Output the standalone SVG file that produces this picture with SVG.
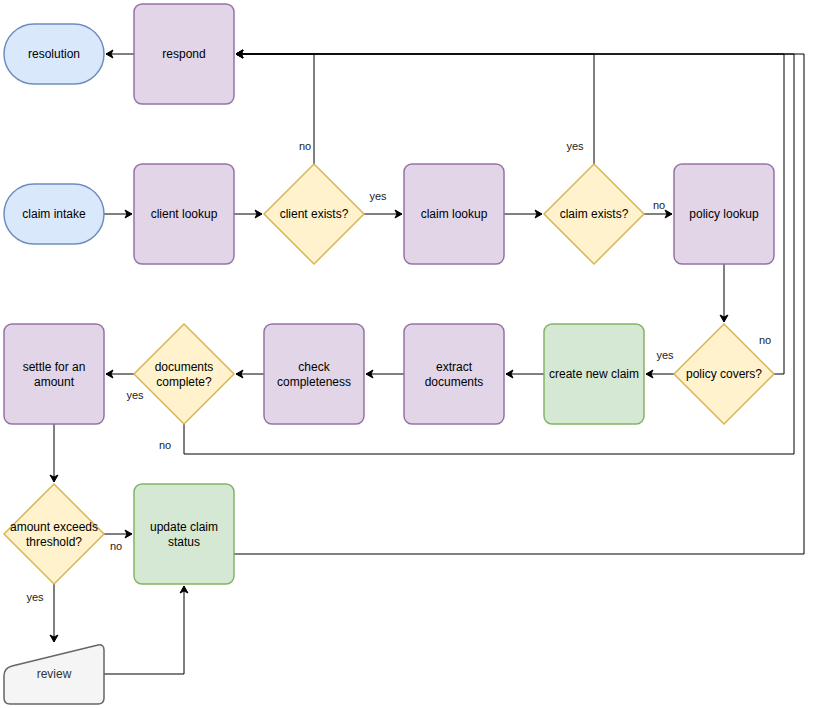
<svg xmlns="http://www.w3.org/2000/svg" width="816" height="708" viewBox="0 0 816 708">
<style>
text{font-family:"Liberation Sans",Arial,Helvetica,sans-serif;font-size:12px;fill:#000;text-anchor:middle;dominant-baseline:central}
.lbl{font-size:11px;fill:#222}
.p{fill:#e1d5e7;stroke:#9673a6;stroke-width:1.5}
.y{fill:#fff2cc;stroke:#d6b656;stroke-width:1.5}
.g{fill:#d5e8d4;stroke:#82b366;stroke-width:1.5}
.b{fill:#dae8fc;stroke:#6c8ebf;stroke-width:1.5}
.gr{fill:#f5f5f5;stroke:#666666;stroke-width:1.5}
.e{fill:none;stroke:#000;stroke-width:1}
.a{marker-end:url(#arr)}
</style>
<defs>
<marker id="arr" markerUnits="userSpaceOnUse" markerWidth="10" markerHeight="10" viewBox="-8 -5 10 10" refX="0" refY="0" orient="auto">
<path d="M-7,-4 L0,0 L-7,4 L-5,0 Z" fill="#000" stroke="#000" stroke-width="1"/>
</marker>
</defs>
<g id="connectors">
<path class="e a" d="M134,54 L106,54"/>
<path class="e a" d="M104,214 L132,214"/>
<path class="e a" d="M234,214 L262,214"/>
<path class="e a" d="M364,214 L402,214"/>
<path class="e a" d="M314,164 L314,54 L236,54"/>
<path class="e a" d="M504,214 L542,214"/>
<path class="e a" d="M644,214 L672,214"/>
<path class="e a" d="M594,164 L594,54 L236,54"/>
<path class="e a" d="M724,264 L724,322"/>
<path class="e a" d="M674,374 L646,374"/>
<path class="e a" d="M774,374 L784,374 L784,54 L236,54"/>
<path class="e a" d="M544,374 L506,374"/>
<path class="e a" d="M404,374 L366,374"/>
<path class="e a" d="M264,374 L236,374"/>
<path class="e a" d="M134,374 L106,374"/>
<path class="e a" d="M184,424 L184,454 L794,454 L794,54 L236,54"/>
<path class="e a" d="M54,424 L54,482"/>
<path class="e a" d="M104,534 L132,534"/>
<path class="e a" d="M54,584 L54,642"/>
<path class="e a" d="M104,674 L184,674 L184,586"/>
<path class="e a" d="M234,554 L804,554 L804,54 L236,54"/>
<text class="lbl" x="305" y="146">no</text>
<text class="lbl" x="378" y="196">yes</text>
<text class="lbl" x="575" y="146">yes</text>
<text class="lbl" x="659" y="205">no</text>
<text class="lbl" x="765" y="340">no</text>
<text class="lbl" x="665" y="355">yes</text>
<text class="lbl" x="135" y="395">yes</text>
<text class="lbl" x="165" y="445">no</text>
<text class="lbl" x="116" y="546">no</text>
<text class="lbl" x="35" y="597">yes</text>
</g>
<g id="resolution"><rect class="b" x="4" y="24" width="100" height="60" rx="30" ry="30"/><text x="54" y="54">resolution</text></g>
<g id="respond"><rect class="p" x="134" y="4" width="100" height="100" rx="8"/><text x="184" y="54">respond</text></g>
<g id="claim-intake"><rect class="b" x="4" y="184" width="100" height="60" rx="30" ry="30"/><text x="54" y="214">claim intake</text></g>
<g id="client-lookup"><rect class="p" x="134" y="164" width="100" height="100" rx="8"/><text x="184" y="214">client lookup</text></g>
<g id="client-exists"><path class="y" d="M314,164 L364,214 L314,264 L264,214 Z"/><text x="314" y="214">client exists?</text></g>
<g id="claim-lookup"><rect class="p" x="404" y="164" width="100" height="100" rx="8"/><text x="454" y="214">claim lookup</text></g>
<g id="claim-exists"><path class="y" d="M594,164 L644,214 L594,264 L544,214 Z"/><text x="594" y="214">claim exists?</text></g>
<g id="policy-lookup"><rect class="p" x="674" y="164" width="100" height="100" rx="8"/><text x="724" y="214">policy lookup</text></g>
<g id="policy-covers"><path class="y" d="M724,324 L774,374 L724,424 L674,374 Z"/><text x="724" y="374">policy covers?</text></g>
<g id="create-new-claim"><rect class="g" x="544" y="324" width="100" height="100" rx="8"/><text x="594" y="374">create new claim</text></g>
<g id="extract-documents"><rect class="p" x="404" y="324" width="100" height="100" rx="8"/><text x="454" y="367">extract</text><text x="454" y="382">documents</text></g>
<g id="check-completeness"><rect class="p" x="264" y="324" width="100" height="100" rx="8"/><text x="314" y="367">check</text><text x="314" y="382">completeness</text></g>
<g id="documents-complete"><path class="y" d="M184,324 L234,374 L184,424 L134,374 Z"/><text x="184" y="367">documents</text><text x="184" y="382">complete?</text></g>
<g id="settle"><rect class="p" x="4" y="324" width="100" height="100" rx="8"/><text x="54" y="367">settle for an</text><text x="54" y="382">amount</text></g>
<g id="amount-exceeds"><path class="y" d="M54,484 L104,534 L54,584 L4,534 Z"/><text x="54" y="527">amount exceeds</text><text x="54" y="542">threshold?</text></g>
<g id="update-claim-status"><rect class="g" x="134" y="484" width="100" height="100" rx="8"/><text x="184" y="527">update claim</text><text x="184" y="542">status</text></g>
<g id="review"><path class="gr" d="M4,676 Q4,668 12,666 L98,645 Q104,644 104,650 L104,698 Q104,704 98,704 L10,704 Q4,704 4,698 Z"/><text x="54" y="674" style="fill:#333">review</text></g>
</svg>
